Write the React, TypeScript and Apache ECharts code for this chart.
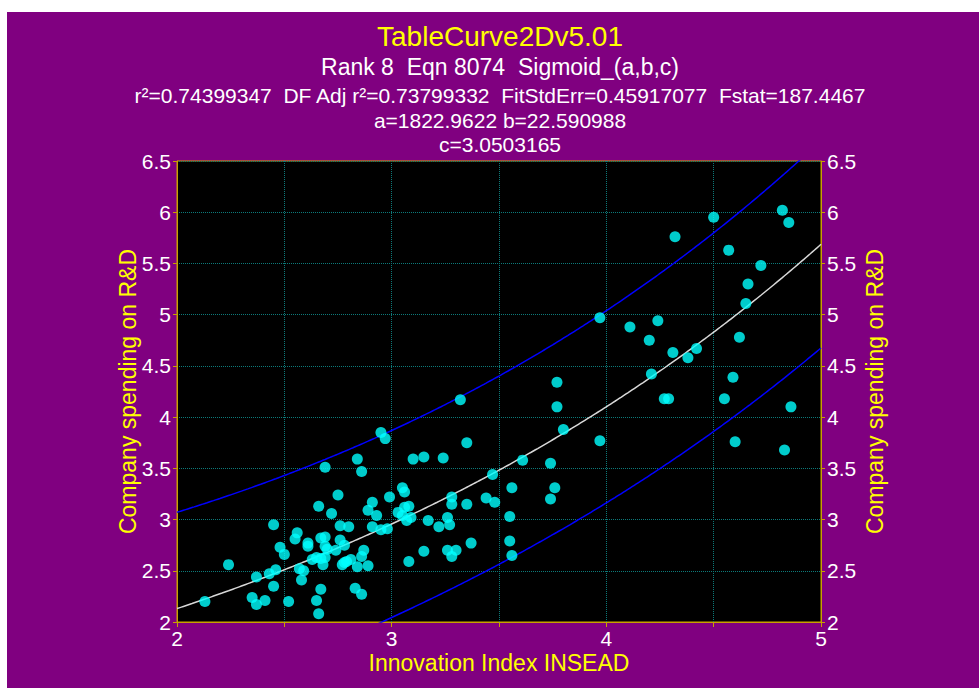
import React, { useEffect, useRef } from "react";
import * as echarts from "echarts";

// Innovation Index (INSEAD) per country
const innovationIndex = [
  2.13, 2.24, 2.35, 2.37, 2.41, 2.37, 2.43, 2.46, 2.45, 2.45,
  2.48, 2.50, 2.52, 2.55, 2.56, 2.57, 2.59, 2.58, 2.61, 2.61,
  2.63, 2.65, 2.67, 2.69, 2.68, 2.66, 2.67, 2.69, 2.69, 2.70,
  2.67, 2.65, 2.66, 2.69, 2.72, 2.74, 2.75, 2.76, 2.80, 2.76,
  2.78, 2.77, 2.78, 2.79, 2.81, 2.84, 2.83, 2.86, 2.86, 2.87,
  2.89, 2.89, 2.93, 2.91, 2.91, 2.95, 2.98, 2.99, 2.84, 2.86,
  2.95, 2.97, 3.05, 3.06, 3.03, 3.06, 3.08, 3.05, 3.09, 3.07,
  3.08, 3.10, 3.15, 3.24, 3.32, 3.35, 3.28, 3.28, 3.35, 3.44,
  3.48, 3.47, 3.17, 3.22, 3.26, 3.27, 3.37, 3.15, 3.26, 3.30,
  3.28, 3.55, 3.55, 3.56, 3.56, 3.61, 3.74, 3.74, 3.76, 3.77,
  3.77, 3.80, 3.97, 3.97, 4.11, 4.24, 4.20, 4.31, 4.38, 4.42,
  4.21, 4.27, 4.29, 4.32, 4.50, 4.82, 4.85, 4.57, 4.72, 4.66,
  4.65, 4.62, 4.59, 4.55, 4.86, 4.60, 4.83,
];

// Company spending on R&D per country
const rdSpending = [
  2.20, 2.56, 2.24, 2.17, 2.21, 2.44, 2.47, 2.51, 2.35, 2.95,
  2.73, 2.66, 2.20, 2.81, 2.87, 2.52, 2.50, 2.41, 2.77, 2.74,
  2.61, 2.63, 2.62, 2.63, 2.56, 3.13, 2.82, 2.83, 2.74, 2.71,
  2.32, 2.21, 2.08, 3.51, 3.06, 2.70, 3.24, 2.94, 2.93, 2.80,
  2.75, 2.56, 2.58, 2.59, 2.61, 2.54, 2.33, 2.27, 2.64, 2.70,
  2.55, 3.09, 3.04, 3.17, 2.93, 2.90, 2.91, 3.22, 3.59, 3.47,
  3.85, 3.79, 3.31, 3.27, 3.07, 3.12, 3.13, 3.04, 3.02, 2.99,
  2.59, 3.59, 3.61, 3.60, 4.17, 3.75, 3.22, 3.15, 3.15, 3.21,
  3.17, 3.44, 2.99, 2.93, 3.02, 2.95, 2.77, 2.69, 2.70, 2.70,
  2.64, 3.03, 2.79, 2.65, 3.31, 3.58, 3.55, 3.20, 3.31, 4.34,
  4.10, 3.88, 3.77, 4.97, 4.88, 4.94, 4.75, 4.63, 4.58, 4.67,
  4.42, 4.18, 4.18, 5.76, 5.95, 6.02, 5.90, 5.63, 5.48, 5.30,
  5.11, 4.78, 4.39, 4.18, 4.10, 3.76, 3.68,
];

// Axis ticks
const xTicks = [2, 2.5, 3, 3.5, 4, 4.5, 5];
const yTicks = [2, 2.5, 3, 3.5, 4, 4.5, 5, 5.5, 6, 6.5];

// Fitted Sigmoid_(a,b,c): y = a / (1 + exp(-(x - b) / c))
const fitA = 1822.9622;
const fitB = 22.590988;
const fitC = 3.0503165;
const fitStdErr = 0.45917077;
const tCrit = 1.98;
// prediction band shape
const bandXMean = 3.02;
const bandSxx = 17;

const titleLines = [
  "TableCurve2Dv5.01",
  "Rank 8  Eqn 8074  Sigmoid_(a,b,c)",
  "r\u00B2=0.74399347  DF Adj r\u00B2=0.73799332  FitStdErr=0.45917077  Fstat=187.4467",
  "a=1822.9622 b=22.590988",
  "c=3.0503165",
];

const sigmoid = (x: number) => fitA / (1 + Math.exp(-(x - fitB) / fitC));
const bandHalf = (x: number) =>
  tCrit * fitStdErr *
  Math.sqrt(1 + 1 / innovationIndex.length + ((x - bandXMean) ** 2) / bandSxx);

const FONT = "'Liberation Sans', Arial, sans-serif";
const GOLD = "#C8A000";
const GRID_DOT = "#0C7A7A";

export default function App() {
  const ref = useRef<HTMLDivElement>(null);

  useEffect(() => {
    if (!ref.current) return;
    const chart = echarts.init(ref.current, null, { renderer: "svg" });

    const xMin = xTicks[0];
    const xMax = xTicks[xTicks.length - 1];
    const curveX: number[] = [];
    for (let i = 0; i <= 300; i++) curveX.push(xMin + ((xMax - xMin) * i) / 300);

    const fitLine = curveX.map((x) => [x, sigmoid(x)]);
    const upper = curveX.map((x) => [x, sigmoid(x) + bandHalf(x)]);
    const lower = curveX.map((x) => [x, sigmoid(x) - bandHalf(x)]);
    const points = innovationIndex.map((x, i) => [x, rdSpending[i]]);

    const yAxisBase = (position: "left" | "right") => ({
      type: "value" as const,
      position,
      min: yTicks[0],
      max: yTicks[yTicks.length - 1],
      interval: 0.5,
      name: "Company spending on R&D",
      nameLocation: "middle" as const,
      nameGap: position === "left" ? 38 : 42,
      nameMoveOverlap: false,
      nameRotate: 90,
      nameTextStyle: { color: "#FFFF00", fontSize: 23, fontFamily: FONT },
      axisLine: { show: true, lineStyle: { color: GOLD, width: 1 } },
      axisTick: { show: true, length: 4, lineStyle: { color: GOLD } },
      axisLabel: {
        color: "#FFFFFF",
        fontSize: 21,
        fontFamily: FONT,
        margin: 6,
        formatter: (v: number) => String(v),
      },
      splitLine: {
        show: position === "left",
        lineStyle: { color: GRID_DOT, type: "dotted", width: 1 },
      },
    });

    const titleY = [24, 55, 83, 108, 132];
    const titleSizes = [28, 23, 21, 21, 21];

    chart.setOption({
      animation: false,
      backgroundColor: "#800080",
      grid: {
        left: 170,
        top: 149,
        width: 644,
        height: 461,
        show: true,
        backgroundColor: "#000000",
        borderColor: GOLD,
        borderWidth: 1,
      },
      graphic: titleLines.map((t, i) => ({
        type: "text",
        x: 493,
        y: titleY[i],
        style: {
          text: t,
          fill: i === 0 ? "#FFFF00" : "#FFFFFF",
          fontSize: titleSizes[i],
          fontFamily: FONT,
          textAlign: "center",
          textVerticalAlign: "middle",
        },
      })),
      xAxis: {
        type: "value",
        min: xMin,
        max: xMax,
        interval: 0.5,
        name: "Innovation Index INSEAD",
        nameLocation: "middle",
        nameGap: 29,
        nameMoveOverlap: false,
        nameTextStyle: { color: "#FFFF00", fontSize: 23, fontFamily: FONT },
        axisLine: { show: true, lineStyle: { color: GOLD, width: 1 } },
        axisTick: { show: true, length: 5, lineStyle: { color: GOLD } },
        axisLabel: {
          color: "#FFFFFF",
          fontSize: 21,
          fontFamily: FONT,
          margin: 6,
          formatter: (v: number) => (Number.isInteger(v) ? String(v) : ""),
        },
        splitLine: {
          show: true,
          lineStyle: { color: GRID_DOT, type: "dotted", width: 1 },
        },
      },
      yAxis: [yAxisBase("left"), yAxisBase("right")],
      series: [
        {
          type: "line",
          data: upper,
          showSymbol: false,
          clip: true,
          lineStyle: { color: "#0000FF", width: 1.5 },
          z: 2,
        },
        {
          type: "line",
          data: lower,
          showSymbol: false,
          clip: true,
          lineStyle: { color: "#0000FF", width: 1.5 },
          z: 2,
        },
        {
          type: "line",
          data: fitLine,
          showSymbol: false,
          clip: true,
          lineStyle: { color: "#D8D8D8", width: 1.5 },
          z: 3,
        },
        {
          type: "scatter",
          data: points,
          symbol: "circle",
          symbolSize: 11,
          itemStyle: { color: "#00FFFF" },
          z: 4,
        },
      ],
    });

    return () => chart.dispose();
  }, []);

  return (
    <div
      ref={ref}
      style={{ position: "fixed", left: 7, top: 12, width: 972, height: 676 }}
    />
  );
}
